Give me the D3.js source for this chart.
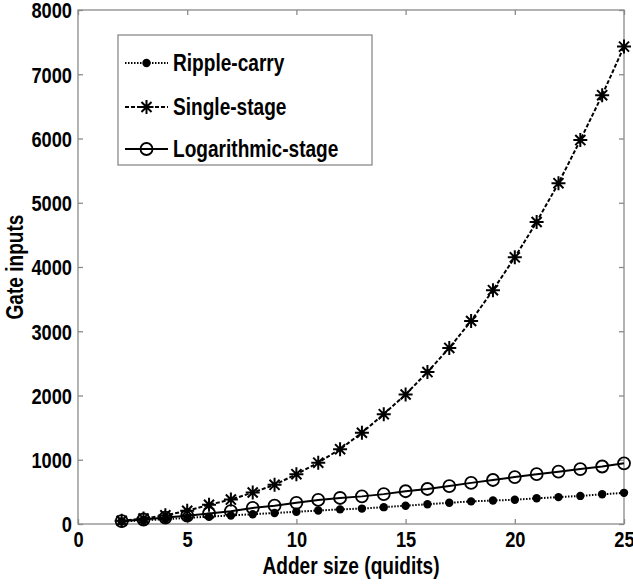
<!DOCTYPE html>
<html><head><meta charset="utf-8">
<script src="https://cdn.jsdelivr.net/npm/d3@7"></script>
<style>
body{margin:0;background:#fff;}
text{font-family:"Liberation Sans",Arial,sans-serif;font-weight:bold;fill:#000;}
</style></head>
<body>
<svg id="chart" width="633" height="584"></svg>
<script>
const adderSize = [2,3,4,5,6,7,8,9,10,11,12,13,14,15,16,17,18,19,20,21,22,23,24,25];
const rippleCarry = [38,57,76,95,114,133,152,171,190,209,228,240,262,285,308,330,352,365,378,400,418,437,462,485];
const singleStage = [50,85,135,205,300,380,490,610,775,955,1165,1420,1710,2015,2365,2740,3160,3640,4150,4700,5305,5975,6675,7430];
const logStage = [45,70,100,130,165,200,250,285,330,375,405,430,465,510,545,590,640,685,730,775,815,855,895,945];
const xTicks = [0,5,10,15,20,25];
const yTicks = [0,1000,2000,3000,4000,5000,6000,7000,8000];
const seriesNames = ["Ripple-carry","Single-stage","Logarithmic-stage"];

const svg = d3.select("#chart");
const L=78, R=624, T=10, B=524;
const x = d3.scaleLinear().domain([0,25]).range([L,R]);
const y = d3.scaleLinear().domain([0,8000]).range([B,T]);
const axisColor = "#8a8a8a";
const SX = 0.83;

svg.append("rect").attr("x",L).attr("y",T).attr("width",R-L).attr("height",B-T)
  .attr("fill","none").attr("stroke",axisColor).attr("stroke-width",1.3);

const fs = 22;
const xb = svg.append("g").attr("transform",`translate(0,${B})`)
  .call(d3.axisBottom(x).tickValues(xTicks).tickSize(-5).tickFormat(d3.format("d")));
const xt = svg.append("g").attr("transform",`translate(0,${T})`)
  .call(d3.axisTop(x).tickValues(xTicks).tickSize(-5).tickFormat(""));
const yl = svg.append("g").attr("transform",`translate(${L},0)`)
  .call(d3.axisLeft(y).tickValues(yTicks).tickSize(-5).tickFormat(d3.format("d")));
const yr = svg.append("g").attr("transform",`translate(${R},0)`)
  .call(d3.axisRight(y).tickValues(yTicks).tickSize(-5).tickFormat(""));
[xb,xt,yl,yr].forEach(g=>{
  g.select(".domain").remove();
  g.selectAll(".tick line").attr("stroke",axisColor).attr("stroke-width",1.3);
  g.selectAll("text").attr("font-size",fs).attr("font-family",null).attr("fill","#000");
});
xb.selectAll("text").attr("x",0).attr("y",0).attr("dy",null)
  .attr("transform",`translate(0,23) scale(${SX},1)`);
yl.selectAll("text").attr("x",0).attr("y",0).attr("dy","0.36em")
  .attr("transform",`translate(-6,0) scale(${SX},1)`);

svg.append("text").attr("transform",`translate(${(L+R)/2},574) scale(${SX},1)`).attr("text-anchor","middle")
  .attr("font-size",23).text("Adder size (quidits)");
svg.append("text").attr("transform",`translate(23,${(T+B)/2}) rotate(-90) scale(${SX},1)`)
  .attr("text-anchor","middle").attr("font-size",23).text("Gate inputs");

const line = d3.line().x((d,i)=>x(adderSize[i])).y(d=>y(d));
const styles = [
  {data:rippleCarry, dash:"1.5,1.5", marker:"dot"},
  {data:singleStage, dash:"4,2", marker:"star"},
  {data:logStage, dash:null, marker:"circle"}
];
function drawMarker(g, type, cx, cy){
  if(type==="dot"){
    g.append("circle").attr("cx",cx).attr("cy",cy).attr("r",4.2).attr("fill","#000");
  } else if(type==="circle"){
    g.append("circle").attr("cx",cx).attr("cy",cy).attr("r",6).attr("fill","none")
      .attr("stroke","#000").attr("stroke-width",1.8);
  } else {
    const s=7, d=s*0.72;
    const p = `M${cx-s},${cy}L${cx+s},${cy}M${cx},${cy-s}L${cx},${cy+s}M${cx-d},${cy-d}L${cx+d},${cy+d}M${cx-d},${cy+d}L${cx+d},${cy-d}`;
    g.append("path").attr("d",p).attr("stroke","#000").attr("stroke-width",2).attr("fill","none");
  }
}
styles.forEach(s=>{
  svg.append("path").datum(s.data).attr("d",line).attr("fill","none")
    .attr("stroke","#000").attr("stroke-width",2).attr("stroke-dasharray",s.dash);
  const g = svg.append("g");
  s.data.forEach((v,i)=>drawMarker(g,s.marker,x(adderSize[i]),y(v)));
});

const lg = svg.append("g");
lg.append("rect").attr("x",118).attr("y",35).attr("width",254).attr("height",130)
  .attr("fill","#fff").attr("stroke",axisColor).attr("stroke-width",1.3);
const rows=[63,107,149];
seriesNames.forEach((n,i)=>{
  lg.append("line").attr("x1",125).attr("x2",168).attr("y1",rows[i]).attr("y2",rows[i])
    .attr("stroke","#000").attr("stroke-width",2).attr("stroke-dasharray",styles[i].dash);
  drawMarker(lg,styles[i].marker,146.5,rows[i]);
  lg.append("text").attr("transform",`translate(173,${rows[i]}) scale(${SX},1)`)
    .attr("dy","0.36em").attr("font-size",23).text(n);
});
</script>
</body></html>
